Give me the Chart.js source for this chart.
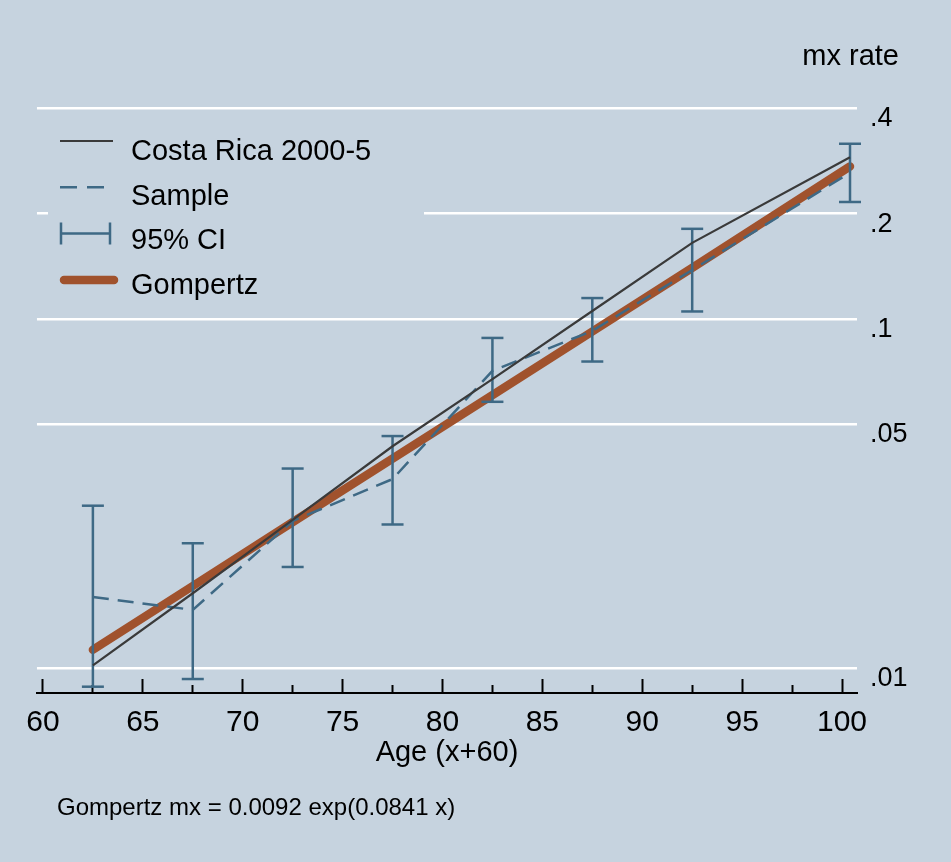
<!DOCTYPE html>
<html>
<head>
<meta charset="utf-8">
<script src="https://cdn.jsdelivr.net/npm/chart.js@4.4.1/dist/chart.umd.min.js"></script>
<style>
html, body { margin: 0; padding: 0; background: #c6d3df; }
canvas { display: block; }
</style>
</head>
<body>
<canvas id="c" width="951" height="862"></canvas>
<script>
// ---- data ----
const ages = [62.5, 67.5, 72.5, 77.5, 82.5, 87.5, 92.5, 100.4];
const costaRica = [0.0102, 0.0164, 0.0266, 0.0432, 0.0672, 0.1053, 0.165, 0.290];
const sample = [0.0160, 0.0147, 0.0264, 0.0348, 0.0710, 0.0924, 0.138, 0.262];
const ciLower = [0.00886, 0.00932, 0.0195, 0.0258, 0.0579, 0.0755, 0.105, 0.216];
const ciUpper = [0.0292, 0.0228, 0.0373, 0.0462, 0.0882, 0.1147, 0.181, 0.317];
const gompertz = [0.0113, 0.0172, 0.0262, 0.0398, 0.0605, 0.0920, 0.140, 0.273];

const xMajorTicks = [60, 65, 70, 75, 80, 85, 90, 95, 100];
const xMinorTicks = [62.5, 67.5, 72.5, 77.5, 82.5, 87.5, 92.5, 97.5];
const yTickValues = [0.01, 0.05, 0.1, 0.2, 0.4];
const yTickLabels = ['.01', '.05', '.1', '.2', '.4'];
const seriesNames = ['Costa Rica 2000-5', 'Sample', '95% CI', 'Gompertz'];
const xTitle = 'Age (x+60)';
const yTitle = 'mx rate';
const noteText = 'Gompertz mx = 0.0092 exp(0.0841 x)';

const X_MIN = 59.7, X_MAX = 100.75;
const Y_MIN = 0.0085, Y_MAX = 0.48;

// ---- styles ----
const BG = '#c6d3df';
const C_CR = '#3a3a3a';
const C_BLUE = '#3e6985';
const C_ORANGE = '#a0522d';
const FONT = '"Liberation Sans", Arial, Helvetica, sans-serif';

const toPts = ys => ages.map((a, i) => ({ x: a, y: ys[i] }));
const ciSegments = [];
const ciCaps = [];
ages.forEach((a, i) => {
  ciSegments.push({ x: a, y: ciLower[i] }, { x: a, y: ciUpper[i] }, { x: a, y: null });
  ciCaps.push({ x: a, y: ciLower[i] }, { x: a, y: ciUpper[i] });
});

const bgPlugin = {
  id: 'bg',
  beforeDraw(chart) {
    const c = chart.ctx;
    c.save();
    c.fillStyle = BG;
    c.fillRect(0, 0, chart.width, chart.height);
    c.restore();
  }
};

// nudge the title / note boxes horizontally to sit where the reference has them
const boxShift = {
  id: 'boxShift',
  afterLayout(chart) {
    for (const b of chart.boxes) {
      if (!b.options) continue;
      if (b.options.text === noteText) { b.left += 21; b.right += 21; }
      if (b.options.text === yTitle) { b.right -= 52; }
    }
  }
};

const legendPlugin = {
  id: 'stataLegend',
  beforeDatasetsDraw(chart) {
    const ctx = chart.ctx;
    ctx.save();
    ctx.fillStyle = BG;
    ctx.fillRect(48, 118, 376, 198);
    const sx0 = 60, sx1 = 113, tx = 131;
    seriesNames.forEach((name, i) => {
      const sy = 141 + i * 46.3;
      const ty = 160 + i * 44.7;
      ctx.save();
      if (i === 0) {
        ctx.strokeStyle = C_CR; ctx.lineWidth = 2.2;
        ctx.beginPath(); ctx.moveTo(sx0, sy); ctx.lineTo(sx1, sy); ctx.stroke();
      } else if (i === 1) {
        ctx.strokeStyle = C_BLUE; ctx.lineWidth = 2.5; ctx.setLineDash([17, 10]);
        ctx.beginPath(); ctx.moveTo(sx0, sy); ctx.lineTo(sx1, sy); ctx.stroke();
      } else if (i === 2) {
        ctx.strokeStyle = C_BLUE; ctx.lineWidth = 2.5;
        ctx.beginPath();
        ctx.moveTo(sx0 + 1, sy); ctx.lineTo(110, sy);
        ctx.moveTo(sx0 + 1, sy - 11); ctx.lineTo(sx0 + 1, sy + 11);
        ctx.moveTo(110, sy - 11); ctx.lineTo(110, sy + 11);
        ctx.stroke();
      } else {
        ctx.strokeStyle = C_ORANGE; ctx.lineWidth = 8.5; ctx.lineCap = 'round';
        ctx.beginPath(); ctx.moveTo(sx0 + 4, sy); ctx.lineTo(114, sy); ctx.stroke();
      }
      ctx.restore();
      ctx.fillStyle = '#000';
      ctx.font = '29px ' + FONT;
      ctx.textBaseline = 'alphabetic';
      ctx.textAlign = 'left';
      ctx.fillText(name, tx, ty);
    });
    ctx.restore();
  }
};

new Chart(document.getElementById('c'), {
  type: 'line',
  data: {
    datasets: [
      {
        label: seriesNames[0], data: toPts(costaRica),
        borderColor: C_CR, borderWidth: 2.2, pointRadius: 0, tension: 0, order: 1
      },
      {
        label: seriesNames[1], data: toPts(sample),
        borderColor: C_BLUE, borderWidth: 2.5, borderDash: [16, 9], pointRadius: 0, tension: 0, order: 2
      },
      {
        label: seriesNames[2], data: ciSegments,
        borderColor: C_BLUE, borderWidth: 2.5, pointRadius: 0, spanGaps: false, order: 3, clip: false
      },
      {
        label: seriesNames[2] + ' caps', data: ciCaps, showLine: false,
        pointStyle: 'line', pointRadius: 11, pointBorderWidth: 2.5,
        pointBorderColor: C_BLUE, pointBackgroundColor: C_BLUE, order: 3, clip: false
      },
      {
        label: seriesNames[3], data: toPts(gompertz),
        borderColor: C_ORANGE, borderWidth: 8.5, borderCapStyle: 'round', borderJoinStyle: 'round',
        pointRadius: 0, tension: 0, order: 4, clip: false
      }
    ]
  },
  options: {
    responsive: false,
    devicePixelRatio: 1,
    animation: false,
    events: [],
    layout: { padding: { left: 36, right: 0, top: 0, bottom: 0 } },
    plugins: {
      legend: { display: false },
      tooltip: { enabled: false },
      title: {
        display: true, text: yTitle, align: 'end', color: '#000',
        font: { family: FONT, size: 29, weight: 'normal' },
        padding: { top: 40, bottom: 6 }
      },
      subtitle: {
        display: true, text: noteText, position: 'bottom', align: 'start', color: '#000',
        font: { family: FONT, size: 24, weight: 'normal' },
        padding: { top: 0, bottom: 39.6 }
      }
    },
    scales: {
      x: {
        type: 'linear', position: 'bottom', min: X_MIN, max: X_MAX, bounds: 'data',
        afterBuildTicks: s => { s.ticks = xMajorTicks.map(v => ({ value: v })); },
        afterFit: s => { s.height = 100.6; },
        grid: { display: true, drawOnChartArea: false, drawTicks: true, tickLength: -14, tickWidth: 2, tickColor: '#000' },
        border: { display: true, color: '#000', width: 2 },
        ticks: {
          color: '#000', font: { family: FONT, size: 30 }, padding: 26,
          maxRotation: 0, autoSkip: false, callback: v => String(v)
        },
        title: {
          display: true, text: xTitle, color: '#000',
          font: { family: FONT, size: 29 }, padding: { top: 0, bottom: 23.5 }
        }
      },
      xMinor: {
        type: 'linear', axis: 'x', position: { y: Y_MIN }, min: X_MIN, max: X_MAX, bounds: 'data',
        afterBuildTicks: s => { s.ticks = xMinorTicks.map(v => ({ value: v })); },
        grid: { display: true, drawOnChartArea: false, drawTicks: true, tickLength: -8, tickWidth: 2, tickColor: '#000' },
        border: { display: false },
        ticks: { display: false }
      },
      y: {
        type: 'logarithmic', position: 'right', min: Y_MIN, max: Y_MAX, bounds: 'data',
        afterBuildTicks: s => { s.ticks = yTickValues.map(v => ({ value: v })); },
        afterFit: s => { s.width = 94; },
        grid: { color: '#ffffff', lineWidth: 2.5, drawTicks: false },
        border: { display: false },
        ticks: {
          color: '#000', font: { family: FONT, size: 27 }, padding: 13, labelOffset: 10.5,
          autoSkip: false,
          callback: v => { const i = yTickValues.indexOf(v); return i >= 0 ? yTickLabels[i] : ''; }
        }
      }
    }
  },
  plugins: [bgPlugin, boxShift, legendPlugin]
});
</script>
</body>
</html>
